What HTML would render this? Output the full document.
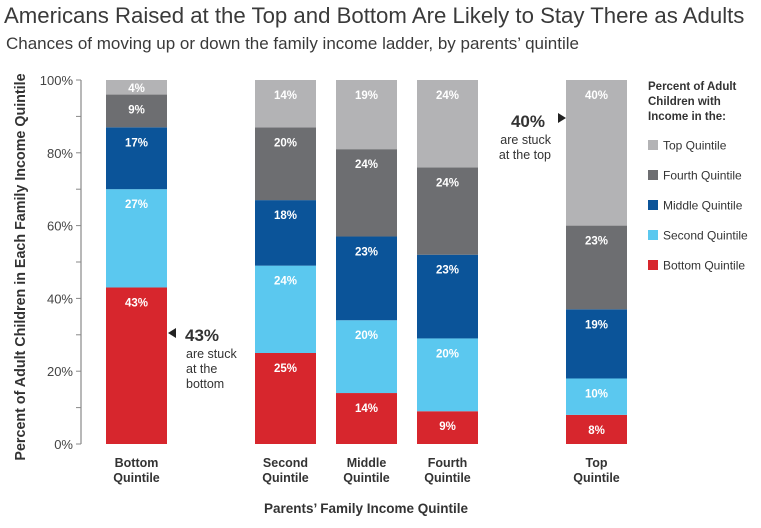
<!DOCTYPE html>
<html><head><meta charset="utf-8"><style>
body{margin:0;background:#fff;font-family:"Liberation Sans",sans-serif;}
svg text{font-family:"Liberation Sans",sans-serif;}
</style></head><body>
<svg width="761" height="523" viewBox="0 0 761 523">
<text x="4" y="23" font-size="22.2" fill="#3a3a3a">Americans Raised at the Top and Bottom Are Likely to Stay There as Adults</text>
<text x="6" y="49" font-size="17" fill="#3a3a3a">Chances of moving up or down the family income ladder, by parents’ quintile</text>
<text transform="translate(25,267) rotate(-90)" text-anchor="middle" font-size="14.3" font-weight="bold" fill="#333">Percent of Adult Children in Each Family Income Quintile</text>
<text x="366" y="513" text-anchor="middle" font-size="13.5" font-weight="bold" fill="#333">Parents’ Family Income Quintile</text>
<g id="axis"></g>
<g id="bars"></g>
<g id="annot">
<polygon points="168,333 176,328 176,338" fill="#222"/>
<text x="185" y="341" font-size="17" font-weight="bold" fill="#333">43%</text>
<text x="186" y="358" font-size="12.5" fill="#333"><tspan x="186">are stuck</tspan><tspan x="186" dy="15">at the</tspan><tspan x="186" dy="15">bottom</tspan></text>
<polygon points="566,118 558,113 558,123" fill="#222"/>
<text x="545" y="127" text-anchor="end" font-size="17" font-weight="bold" fill="#333">40%</text>
<text x="551" y="144" text-anchor="end" font-size="12.5" fill="#333"><tspan x="551">are stuck</tspan><tspan x="551" dy="15">at the top</tspan></text>
</g>
<g id="legend">
<text x="648" y="90" font-size="11.5" font-weight="bold" fill="#333"><tspan x="648">Percent of Adult</tspan><tspan x="648" dy="15">Children with</tspan><tspan x="648" dy="15">Income in the:</tspan></text>
</g>
</svg>
<script>
const categories=["Bottom|Quintile","Second|Quintile","Middle|Quintile","Fourth|Quintile","Top|Quintile"];
const seriesNames=["Bottom Quintile","Second Quintile","Middle Quintile","Fourth Quintile","Top Quintile"];
const bottomQ=[43,25,14,9,8];
const secondQ=[27,24,20,20,10];
const middleQ=[17,18,23,23,19];
const fourthQ=[9,20,24,24,23];
const topQ=[4,14,19,24,40];
const yTicks=[0,20,40,60,80,100];
const colors=["#d7262d","#5bc8ef","#0b5499","#6d6e71","#b3b3b5"];
const barX=[106,255,336,417,566];
const barW=61;
const y0=444,y100=80;
function y(v){return y0-(y0-y100)*v/100;}
const NS="http://www.w3.org/2000/svg";
function mk(t,a,p){const e=document.createElementNS(NS,t);for(const k in a)e.setAttribute(k,a[k]);p.appendChild(e);return e;}
const ax=document.getElementById('axis');
const al=mk('line',{x1:81,x2:81,y1:y(0),y2:y(100),stroke:'#888','stroke-width':1.2},ax);


for(let v=0;v<=100;v+=10){const t=mk('line',{x1:76,x2:81,y1:y(v),y2:y(v),stroke:'#888'},ax);

}
yTicks.forEach(v=>{const t=mk('text',{x:73,y:y(v)+5,'text-anchor':'end','font-size':13,fill:'#444'},ax);t.textContent=v+'%';

});
const series=[bottomQ,secondQ,middleQ,fourthQ,topQ];
const bg=document.getElementById('bars');
categories.forEach((c,i)=>{let cum=0;
series.forEach((s,j)=>{const v=s[i];const a=Math.min(cum,100),b=Math.min(cum+v,100);cum+=v;
const h=y(a)-y(b);
const r=mk('rect',{x:barX[i],y:y(b),width:barW,height:h,fill:colors[j]},bg);


const t=mk('text',{x:barX[i]+barW/2,y:y(b)+Math.min(19,h/2+4.5),'text-anchor':'middle','font-size':11.5,'font-weight':'bold',fill:'#fff'},bg);t.textContent=v+'%';

});
const p=c.split('|');const t=mk('text',{x:barX[i]+barW/2,y:467,'text-anchor':'middle','font-size':12.5,'font-weight':'bold',fill:'#333'},bg);


mk('tspan',{x:barX[i]+barW/2},t).textContent=p[0];mk('tspan',{x:barX[i]+barW/2,dy:15},t).textContent=p[1];});
const lg=document.getElementById('legend');
for(let k=4;k>=0;k--){const yy=145+(4-k)*30;
const r=mk('rect',{x:648,y:yy-5,width:10,height:10,fill:colors[k]},lg);


const t=mk('text',{x:663,y:yy+4.5,'font-size':12,fill:'#333'},lg);t.textContent=seriesNames[k];

}
</script>
</body></html>
